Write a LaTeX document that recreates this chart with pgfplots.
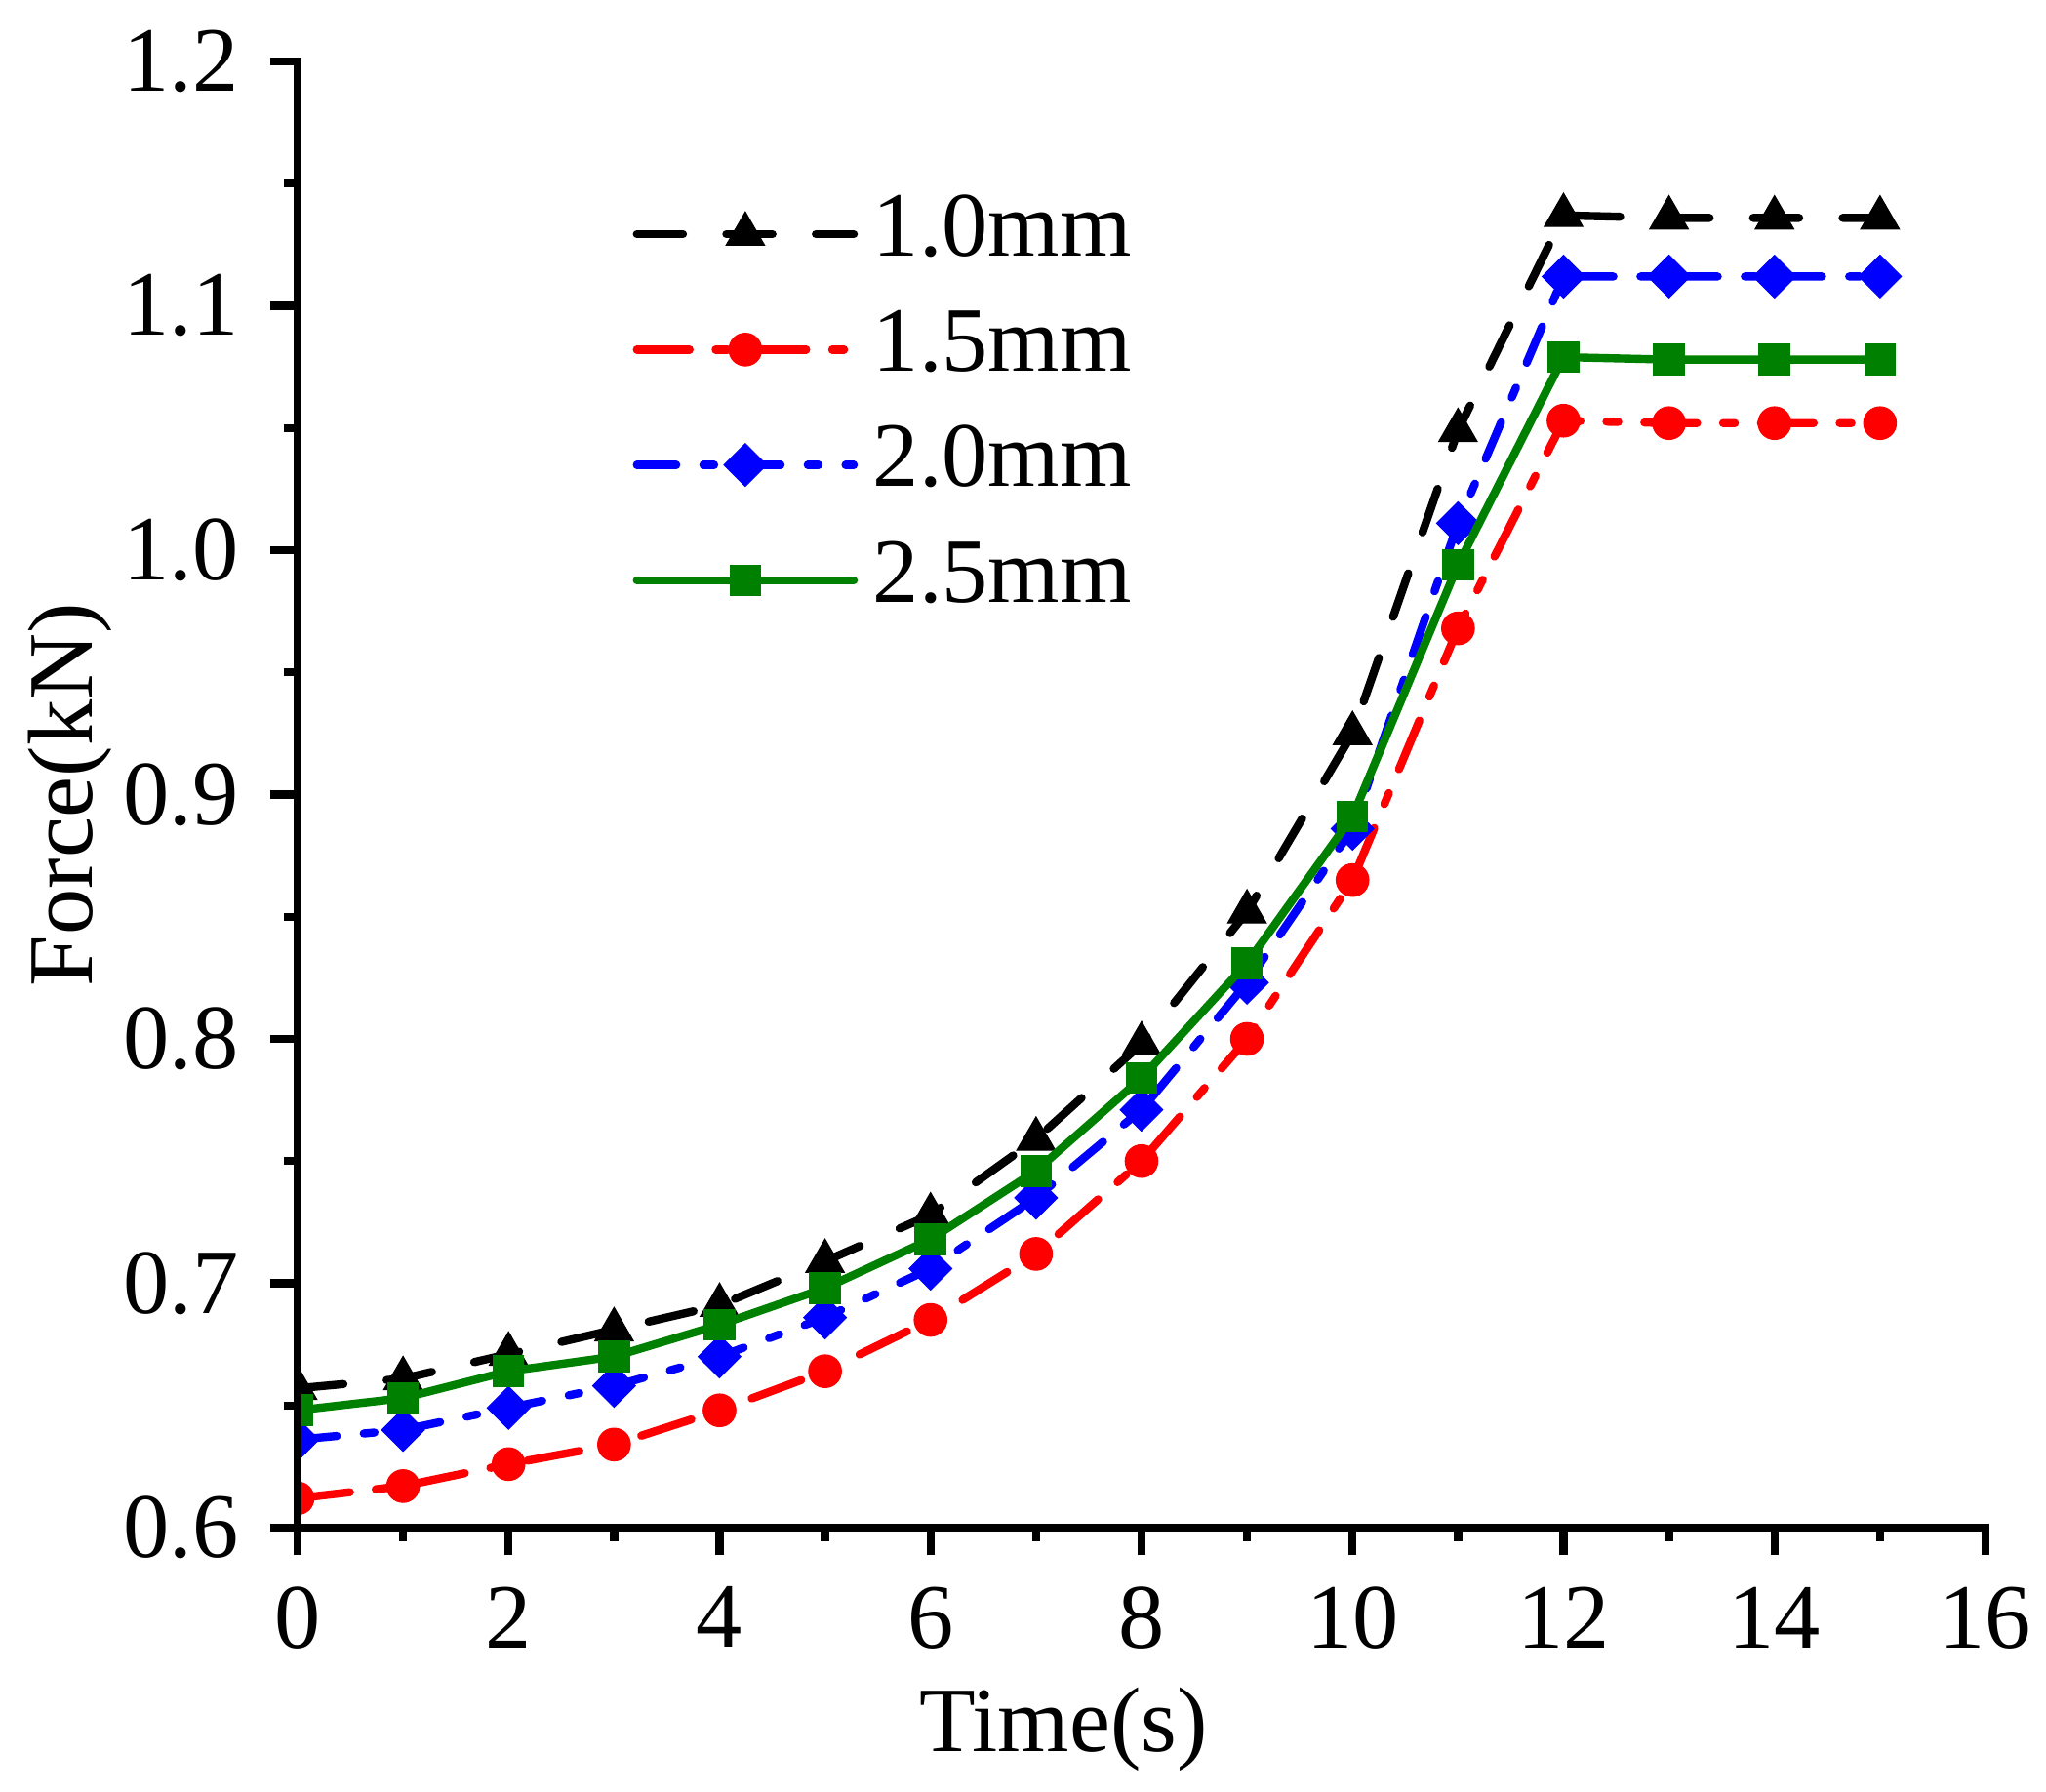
\documentclass[border=0pt]{standalone}
\usepackage{fontspec}
\setmainfont{Liberation Serif}
\usepackage{pgfplots}
\pgfplotsset{compat=1.18}
\pgfplotstableread{
t    a      b      c      d
0    0.657  0.612  0.636  0.648
1    0.661  0.617  0.640  0.653
2    0.671  0.626  0.649  0.664
3    0.681  0.634  0.658  0.670
4    0.691  0.648  0.670  0.683
5    0.709  0.664  0.686  0.698
6    0.728  0.685  0.706  0.718
7    0.759  0.712  0.735  0.746
8    0.798  0.750  0.771  0.784
9    0.852  0.800  0.823  0.831
10   0.925  0.865  0.886  0.891
11   1.049  0.968  1.011  0.994
12   1.137  1.053  1.112  1.079
13   1.136  1.052  1.112  1.078
14   1.136  1.052  1.112  1.078
15   1.136  1.052  1.112  1.078
}\datatable
\definecolor{ogreen}{RGB}{0,128,0}
\begin{document}
\fontsize{18}{21.6}\selectfont
\begin{tikzpicture}
\begin{axis}[
  scale only axis,
  width=330pt, height=286.7pt,
  xmin=0, xmax=16, ymin=0.6, ymax=1.2,
  axis lines*=left,
  axis on top,
  clip marker paths=true,
  axis line style={line width=1.66pt, line cap=rect},
  xtick={0,2,...,16}, minor x tick num=1,
  ytick={0.6,0.7,0.8,0.9,1.0,1.1,1.2}, minor y tick num=1,
  tick align=outside,
  major tick length=5.4pt, minor tick length=2.6pt,
  every tick/.style={line width=1.6pt, black},
  /pgf/number format/assume math mode=true,
  yticklabel style={/pgf/number format/.cd, fixed, fixed zerofill, precision=1},
  xlabel={Time(s)}, ylabel={Force(kN)},
  every axis x label/.style={at={(axis description cs:0.4538,0)}, yshift=-43.7pt, anchor=base},
  every axis y label/.style={at={(axis description cs:0,0.5)}, xshift=-40.2pt, rotate=90, anchor=base},
  legend style={draw=none, fill=none, inner sep=0pt, at={(rel axis cs:0.198,0.9117)}, anchor=north west,
    row sep=6.07pt, column sep=3pt, nodes={inner sep=0pt, text height=12.5pt, text depth=4pt}},
  legend cell align=left,
  legend image code/.code={\draw[mark repeat=2, mark phase=2, #1] plot coordinates {(0pt,0pt) (21.2pt,0pt) (42.4pt,0pt)};},
]
\addplot[black, line width=1.6pt, line cap=round, dash pattern=on 9pt off 8.5pt,
  mark=triangle*, mark size=4.35pt, mark options={solid, line width=0.2pt, fill=black}]
  table[x=t, y=a] {\datatable};
\addlegendentry{1.0mm}
\addplot[red, line width=1.6pt, line cap=round, dash pattern=on 10.3pt off 5.1pt on 2.3pt off 5.1pt,
  mark=*, mark size=3.2pt, mark options={solid, line width=0.2pt, fill=red}]
  table[x=t, y=b] {\datatable};
\addlegendentry{1.5mm}
\addplot[blue, line width=1.6pt, line cap=round, dash pattern=on 7.7pt off 5.3pt on 2.1pt off 5.3pt,
  mark=square*, mark size=2.95pt, mark options={solid, rotate=45, line width=0.2pt, fill=blue}]
  table[x=t, y=c] {\datatable};
\addlegendentry{2.0mm}
\addplot[ogreen, line width=1.6pt, line cap=round, solid,
  mark=square*, mark size=3.0pt, mark options={solid, line width=0.2pt, fill=ogreen}]
  table[x=t, y=d] {\datatable};
\addlegendentry{2.5mm}
\coordinate (SW) at (rel axis cs:0,0);
\coordinate (NE) at (rel axis cs:1,1);
\end{axis}
\pgfresetboundingbox
\path[use as bounding box] ([xshift=-58.18pt,yshift=-51.69pt]SW) rectangle ([xshift=11.83pt,yshift=12.02pt]NE);
\end{tikzpicture}
\end{document}
